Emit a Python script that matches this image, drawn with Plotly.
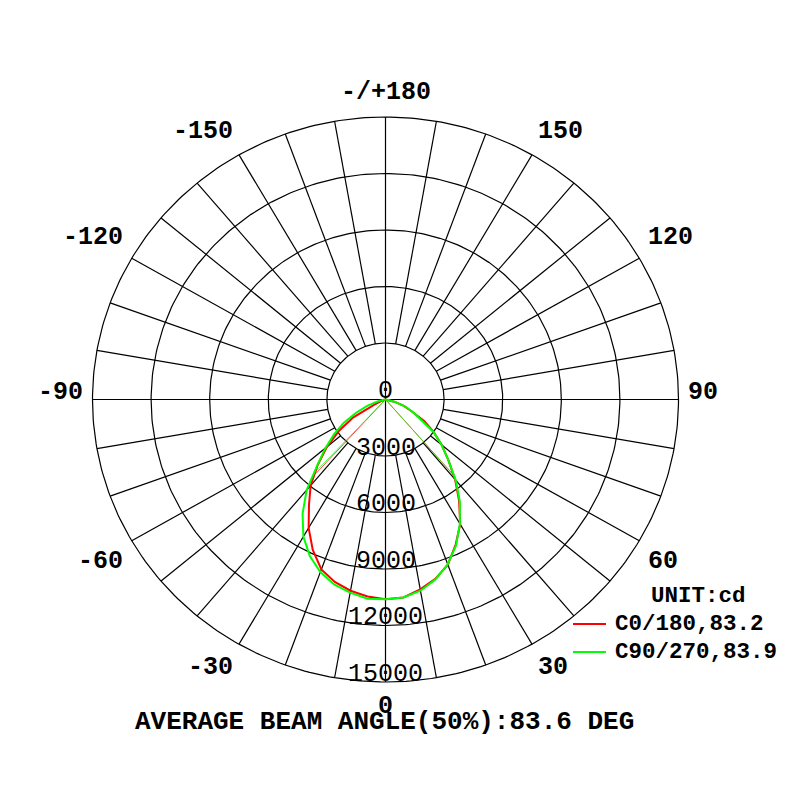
import numpy as np
import plotly.graph_objects as go

# ---------------- data ----------------
angles = [-90, -85, -80, -75, -70, -65, -60, -55, -50, -45, -40, -35, -30, -25, -20, -15, -10, -5,
          0, 5, 10, 15, 20, 25, 30, 35, 40, 45, 50, 55, 60, 65, 70, 75, 80, 85, 90]
c0_180 = [0, 0, 0, 0, 150, 600, 1900, 2920, 3910, 4900, 5960, 6830, 7870, 8810, 9600, 10030, 10310, 10500,
          10600, 10550, 10240, 9860, 9330, 8500, 7650, 6570, 5540, 4550, 3760, 3000, 2300, 1470, 1000, 500, 200, 40, 0]
c90_270 = [0, 30, 150, 450, 1000, 1660, 2460, 3210, 4020, 4940, 6280, 7400, 8410, 9170, 9750, 10170, 10410, 10620,
           10600, 10550, 10310, 9890, 9310, 8550, 7620, 6640, 5600, 4550, 3750, 3000, 2100, 1530, 1050, 500, 150, 30, 0]
series_names = ["C0/180,83.2", "C90/270,83.9"]
series_colors = ["#FF0000", "#00FF00"]
half_angles = [(-42.2, 41.0), (-43.0, 40.9)]   # 50% beam edges (deg) per series
half_value = 5300                               # 50% of peak (cd)

radial_ticks = [0, 3000, 6000, 9000, 12000, 15000]
angle_ticks = [0, 30, 60, 90, 120, 150, 180, -150, -120, -90, -60, -30]
angle_tick_text = ["0", "30", "60", "90", "120", "150", "-/+180", "-150", "-120", "-90", "-60", "-30"]
unit_text = "UNIT:cd"
title_text = "AVERAGE BEAM ANGLE(50%):83.6 DEG"

R_MAX = 15000
R_IN = 3000

# ---------------- helpers ----------------
def to_xy(theta_deg, r):
    t = np.radians(np.asarray(theta_deg, dtype=float))
    r = np.asarray(r, dtype=float)
    return r * np.sin(t), -r * np.cos(t)

fig = go.Figure()
grid_line = dict(color="black", width=1.2)

# rings
ring_t = np.arange(0, 361, 1)
for rv in radial_ticks[1:]:
    x, y = to_xy(ring_t, np.full(ring_t.shape, rv))
    fig.add_trace(go.Scatter(x=x, y=y, mode="lines", line=grid_line, hoverinfo="skip"))

# spokes
sx, sy = [], []
for a in range(0, 360, 10):
    r0 = 0 if a % 90 == 0 else R_IN
    x, y = to_xy([a, a], [r0, R_MAX])
    sx += list(x) + [None]
    sy += list(y) + [None]
fig.add_trace(go.Scatter(x=sx, y=sy, mode="lines", line=grid_line, hoverinfo="skip"))

# half-intensity beam lines
for (la, ra), col in zip(half_angles, series_colors):
    for a in (la, ra):
        x, y = to_xy([0, a], [0, half_value])
        fig.add_trace(go.Scatter(x=x, y=y, mode="lines", line=dict(color=col, width=1),
                                 opacity=0.7, hoverinfo="skip"))

# curves
for vals, name, col in zip([c0_180, c90_270], series_names, series_colors):
    x, y = to_xy(angles, vals)
    fig.add_trace(go.Scatter(x=x, y=y, mode="lines", name=name, line=dict(color=col, width=2)))

annotations = []
mono = "Liberation Mono"

# radial labels
for rv in radial_ticks:
    x, y = to_xy(0, rv)
    annotations.append(dict(x=float(x), y=float(y), xref="x", yref="y", text=str(rv), showarrow=False,
                            xanchor="center", yanchor="middle", yshift=8,
                            font=dict(family=mono, size=25, color="black")))

# angle labels
LABEL_R = 15400
for a, txt in zip(angle_ticks, angle_tick_text):
    x, y = to_xy(a, LABEL_R)
    s, c = np.sin(np.radians(a)), -np.cos(np.radians(a))
    xa = "left" if s > 0.1 else ("right" if s < -0.1 else "center")
    ya = "top" if c < -0.1 else ("bottom" if c > 0.1 else "middle")
    ys = 7 if ya == "middle" else 0
    annotations.append(dict(x=float(x), y=float(y), xref="x", yref="y", text=txt, showarrow=False,
                            xanchor=xa, yanchor=ya, yshift=ys,
                            font=dict(family=mono, size=25, color="black", weight="bold")))

W = H = 800
OFF = 8  # page body margin
def px(x):
    return (x - OFF) / W
def py(y):
    return 1 - (y - OFF) / H

# legend
annotations.append(dict(x=px(698.5), y=py(596), xref="paper", yref="paper", text=unit_text,
                        showarrow=False, xanchor="center", yanchor="middle",
                        font=dict(family=mono, size=22.5, color="black", weight="bold")))
shapes = []
for i, (name, col) in enumerate(zip(series_names, series_colors)):
    yy = py(624 + 28 * i)
    shapes.append(dict(type="line", xref="paper", yref="paper", x0=px(573), x1=px(606), y0=yy, y1=yy,
                       line=dict(color=col, width=2)))
    annotations.append(dict(x=px(613), y=yy, xref="paper", yref="paper", text=name, showarrow=False,
                            xanchor="left", yanchor="middle",
                            font=dict(family=mono, size=22.5, color="black", weight="bold")))

annotations.append(dict(x=px(384), y=py(722), xref="paper", yref="paper", text=title_text,
                        showarrow=False, xanchor="center", yanchor="middle",
                        font=dict(family=mono, size=26, color="black", weight="bold")))

# pixel scale: horizontal radius 293 px, vertical 282.5 px for R_MAX
cx, cy = 385.5 - OFF, 399.5 - OFF
pxx = 293.0 / R_MAX
pxy = 282.5 / R_MAX
fig.update_layout(
    width=W, height=H, autosize=False,
    margin=dict(l=0, r=0, t=0, b=0),
    paper_bgcolor="white", plot_bgcolor="white",
    showlegend=False,
    xaxis=dict(range=[-cx / pxx, (W - cx) / pxx], visible=False, fixedrange=True),
    yaxis=dict(range=[-(H - cy) / pxy, cy / pxy], visible=False, fixedrange=True),
    annotations=annotations, shapes=shapes,
)
fig.write_html("out.html")
